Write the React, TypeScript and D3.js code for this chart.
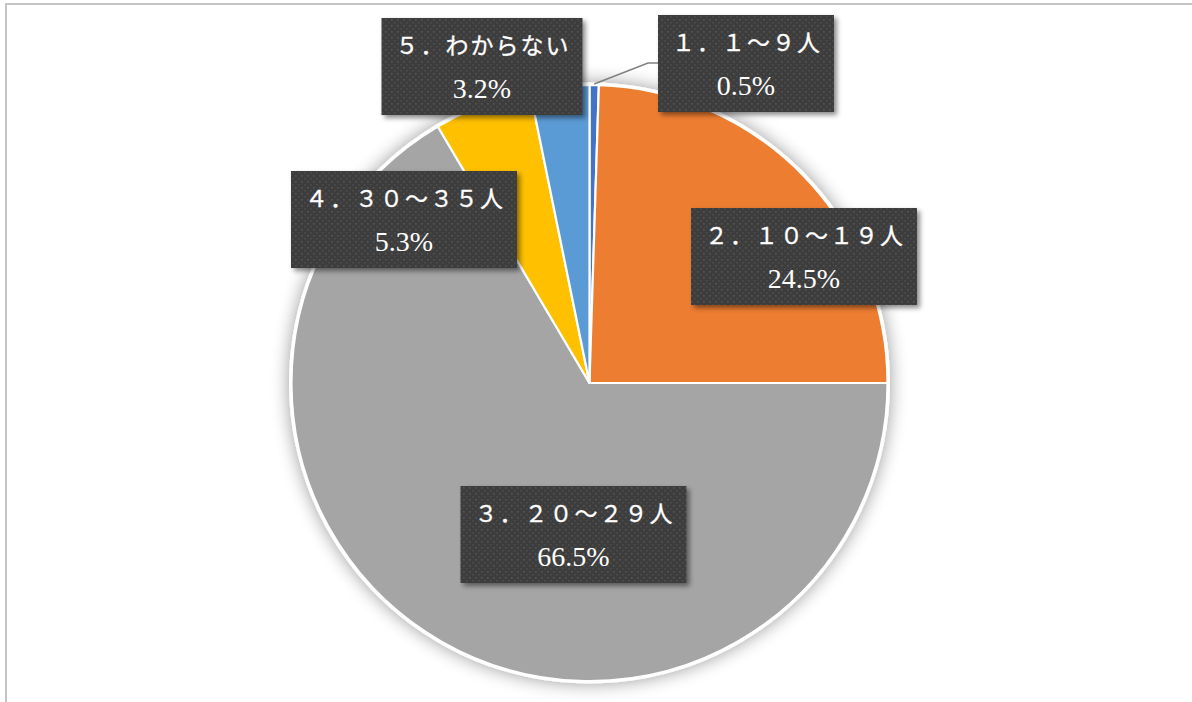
import React from "react";
import * as d3 from "d3";

const categories = ["１．１～９人", "２．１０～１９人", "３．２０～２９人", "４．３０～３５人", "５．わからない"];
const values = [0.5, 24.5, 66.5, 5.3, 3.2];
const percentLabels = ["0.5%", "24.5%", "66.5%", "5.3%", "3.2%"];
const colors = ["#4472C4", "#ED7D31", "#A5A5A5", "#FFC000", "#5B9BD5"];

// layout of the data-label boxes (center x, top y)
const labelBoxes = [
  { cx: 746, top: 15 },
  { cx: 804, top: 208 },
  { cx: 573.5, top: 486 },
  { cx: 404, top: 171 },
  { cx: 482, top: 18 },
];

const W = 1192;
const H = 702;
const CX = 589.5;
const CY = 383;
const R = 298;

export default function App() {
  const data = categories.map((c, i) => ({ c, v: values[i], i }));
  const pie = d3.pie<any>().sort(null).value((d) => d.v);
  const arcs = pie(data);
  const arc = d3.arc<any>().innerRadius(0).outerRadius(R);

  const a0 = arcs[0];
  const mid = (a0.startAngle + a0.endAngle) / 2;
  const lx0 = CX + Math.sin(mid) * (R + 1);
  const ly0 = CY - Math.cos(mid) * (R + 1);

  return (
    <svg width={W} height={H} style={{ position: "absolute", left: 0, top: 0, display: "block" }}>
      <defs>
        <pattern id="dots" width="6" height="6" patternUnits="userSpaceOnUse">
          <rect width="6" height="6" fill="#3d3d3d" />
          <rect x="1" y="1" width="1.6" height="1.6" fill="#555555" />
          <rect x="4" y="4" width="1.6" height="1.6" fill="#4c4c4c" />
        </pattern>
        <filter id="boxShadow" x="-20%" y="-20%" width="140%" height="150%">
          <feDropShadow dx="3" dy="3" stdDeviation="2.5" floodColor="#000" floodOpacity="0.45" />
        </filter>
        <filter id="pieShadow" x="-20%" y="-20%" width="140%" height="140%">
          <feGaussianBlur in="SourceAlpha" stdDeviation="9" />
          <feComponentTransfer>
            <feFuncA type="linear" slope="0.4" />
          </feComponentTransfer>
          <feMerge>
            <feMergeNode />
            <feMergeNode in="SourceGraphic" />
          </feMerge>
        </filter>
      </defs>
      <rect x={0} y={0} width={W} height={H} fill="#fff" />
      <rect x={6} y={4} width={1220} height={730} fill="none" stroke="#c4c4c4" strokeWidth={2} />

      <g transform={`translate(${CX},${CY})`}>
        <circle r={R + 2.5} fill="#fff" filter="url(#pieShadow)" />
        {arcs.map((a, i) => (
          <path key={i} d={arc(a) || ""} fill={colors[i]} stroke="#fff" strokeWidth={2.2} strokeLinejoin="round" />
        ))}
      </g>

      <polyline
        points={`${lx0},${ly0} ${648},${63} ${labelBoxes[0].cx - (categories[0].length * 25 + 26) / 2},63`}
        fill="none"
        stroke="#808080"
        strokeWidth={1.5}
      />

      {labelBoxes.map((b, i) => {
        const w = categories[i].length * 25 + 26;
        const h = 97;
        const x = b.cx - w / 2;
        return (
          <g key={i}>
            <rect x={x} y={b.top} width={w} height={h} fill="url(#dots)" filter="url(#boxShadow)" />
            <text
              x={b.cx + 1}
              y={b.top + 36}
              textAnchor="middle"
              fill="#fff"
              fontFamily="'Noto Sans CJK JP', sans-serif"
              fontSize={23}
              letterSpacing={2}
              stroke="#fff"
              strokeWidth={0.3}
            >
              {categories[i]}
            </text>
            <text
              x={b.cx}
              y={b.top + 80}
              textAnchor="middle"
              fill="#fff"
              fontFamily="'Liberation Serif', serif"
              fontSize={28}
            >
              {percentLabels[i]}
            </text>
          </g>
        );
      })}
    </svg>
  );
}
